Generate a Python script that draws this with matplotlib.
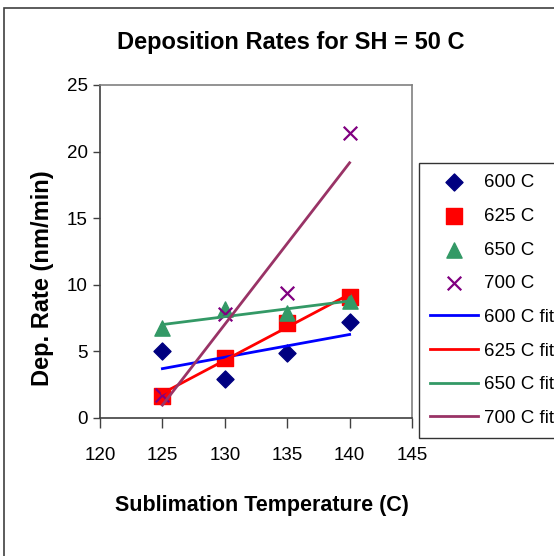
import matplotlib
matplotlib.use("Agg")
import matplotlib.pyplot as plt
import numpy as np
from matplotlib.patches import Rectangle

plt.rcParams['font.family'] = ['Liberation Sans', 'DejaVu Sans']

temps = [125, 130, 135, 140]
series_labels = ["600 C", "625 C", "650 C", "700 C"]
rate_600 = [5.0, 2.9, 4.85, 7.2]
rate_625 = [1.65, 4.5, 7.1, 9.05]
rate_650 = [6.75, 8.15, 7.9, 8.8]
rate_700 = [1.7, 7.8, 9.35, 21.4]
x_ticks = [120, 125, 130, 135, 140, 145]
y_ticks = [0, 5, 10, 15, 20, 25]

W, H = 554, 556
fig = plt.figure(figsize=(W / 100, H / 100), dpi=100)
fig.patch.set_facecolor('white')

ax = fig.add_axes([100 / W, (H - 418) / H, (412 - 100) / W, (418 - 85) / H])

marker_styles = [
    dict(marker='D', color='#000080', s=75),
    dict(marker='s', color='#FF0000', s=120),
    dict(marker='^', color='#339966', s=120),
    dict(marker='x', color='#800080', s=95, linewidths=1.6),
]
fit_colors = ['#0000FF', '#FF0000', '#339966', '#993366']
data = [rate_600, rate_625, rate_650, rate_700]

handles = []
for lab, ys, st in zip(series_labels, data, marker_styles):
    h = ax.scatter(temps, ys, label=lab, zorder=3, **st)
    handles.append(h)

xa = np.array(temps, dtype=float)
for lab, ys, c in zip(series_labels, data, fit_colors):
    k, b = np.polyfit(xa, np.array(ys), 1)
    xs = np.array([xa.min(), xa.max()])
    h, = ax.plot(xs, k * xs + b, color=c, lw=2, label=lab + " fit", zorder=4)
    handles.append(h)

ax.set_xlim(120, 145)
ax.set_ylim(0, 25)
ax.set_xticks(x_ticks)
ax.set_yticks(y_ticks)
ax.tick_params(axis='both', direction='out', labelsize=13.5, color='#404040', width=1)
ax.tick_params(axis='x', length=7, pad=14)
ax.tick_params(axis='y', length=5, pad=4)
for s in ax.spines.values():
    s.set_color('#808080')
    s.set_linewidth(1.2)
ax.spines['left'].set_color('#404040')
ax.spines['bottom'].set_color('#404040')

fig.text(291 / W, 1 - 43 / H, "Deposition Rates for SH = 50 C", ha='center', va='center',
         fontsize=17, fontweight='bold')
fig.text(262 / W, 1 - 505 / H, "Sublimation Temperature (C)", ha='center', va='center',
         fontsize=15.5, fontweight='bold')
fig.text(43 / W, 1 - 278 / H, "Dep. Rate (nm/min)", ha='center', va='center',
         fontsize=17, fontweight='bold', rotation=90)

leg = fig.legend(handles=handles, loc='upper left',
                 bbox_to_anchor=(419 / W, 1 - 163 / H), bbox_transform=fig.transFigure,
                 borderaxespad=0, fontsize=13.5, frameon=True, fancybox=False,
                 handlelength=2.56, handletextpad=0.32, labelspacing=0.88,
                 borderpad=0.6, scatterpoints=1)
leg.get_frame().set_edgecolor('black')
leg.get_frame().set_linewidth(1.0)

fig.patches.append(Rectangle((4 / W, -0.1), 1.2, (H - 8) / H + 0.1,
                             transform=fig.transFigure, fill=False,
                             edgecolor='#404040', lw=1.2))

fig.savefig("out.png", dpi=100)
